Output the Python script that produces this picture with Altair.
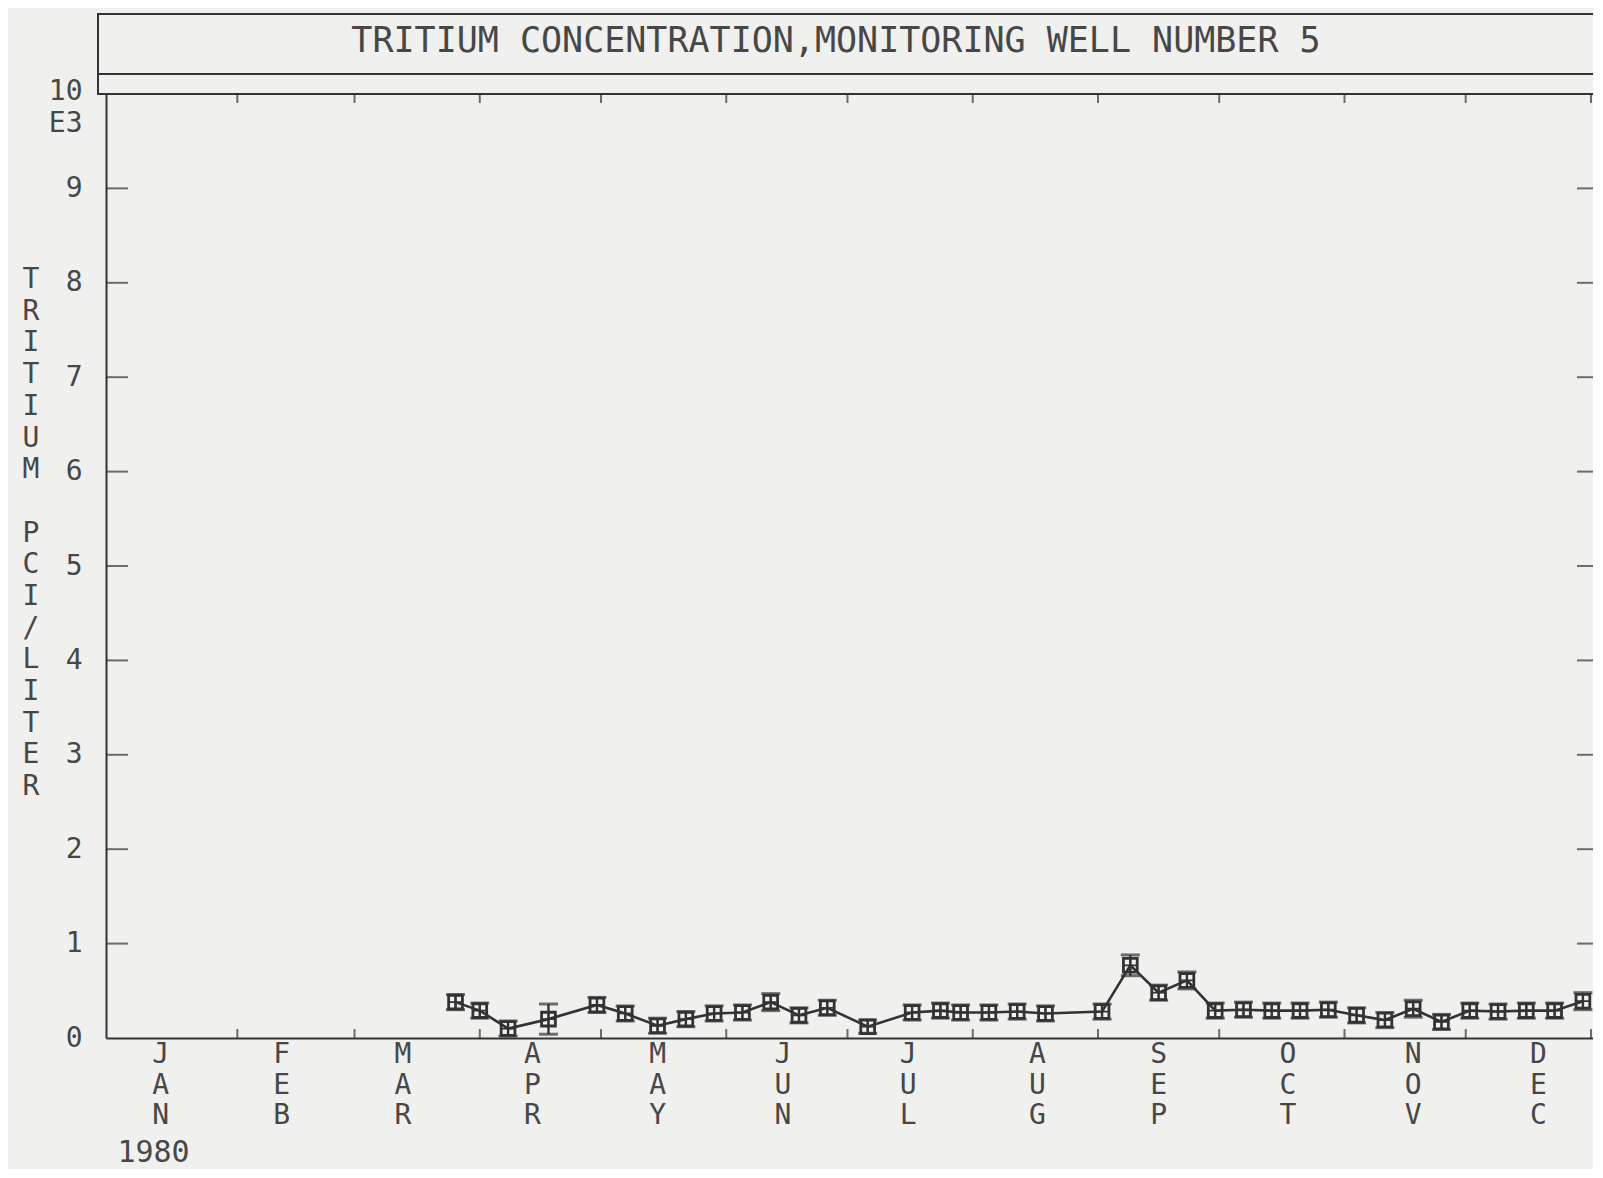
import altair as alt
import pandas as pd

# ---------------- data ----------------
DATES = ["1980-03-26", "1980-04-01", "1980-04-08", "1980-04-18", "1980-04-30",
         "1980-05-07", "1980-05-15", "1980-05-22", "1980-05-29", "1980-06-05",
         "1980-06-12", "1980-06-19", "1980-06-26", "1980-07-06", "1980-07-17",
         "1980-07-24", "1980-07-29", "1980-08-05", "1980-08-12", "1980-08-19",
         "1980-09-02", "1980-09-09", "1980-09-16", "1980-09-23", "1980-09-30",
         "1980-10-07", "1980-10-14", "1980-10-21", "1980-10-28", "1980-11-04",
         "1980-11-11", "1980-11-18", "1980-11-25", "1980-12-02", "1980-12-09",
         "1980-12-16", "1980-12-23", "1980-12-30"]
VALUES = [0.38, 0.29, 0.10, 0.20, 0.35, 0.26, 0.13, 0.20, 0.26, 0.27,
          0.38, 0.24, 0.32, 0.12, 0.27, 0.29, 0.27, 0.27, 0.28, 0.26,
          0.28, 0.77, 0.48, 0.61, 0.29, 0.30, 0.29, 0.29, 0.30, 0.24,
          0.19, 0.31, 0.17, 0.29, 0.28, 0.29, 0.29, 0.39]
ERRORS = [0.08, 0.08, 0.08, 0.16, 0.08, 0.08, 0.08, 0.08, 0.08, 0.08,
          0.09, 0.08, 0.08, 0.07, 0.08, 0.08, 0.08, 0.08, 0.08, 0.08,
          0.08, 0.11, 0.08, 0.09, 0.08, 0.08, 0.08, 0.08, 0.08, 0.08,
          0.08, 0.09, 0.08, 0.08, 0.08, 0.08, 0.08, 0.09]

MONTHS = ["JAN", "FEB", "MAR", "APR", "MAY", "JUN",
          "JUL", "AUG", "SEP", "OCT", "NOV", "DEC"]
MONTH_LABEL_DATES = ["1980-01-13", "1980-02-12", "1980-03-13", "1980-04-14",
                     "1980-05-15", "1980-06-15", "1980-07-16", "1980-08-17",
                     "1980-09-16", "1980-10-18", "1980-11-18", "1980-12-19"]
MONTH_STARTS = ["1980-02-01", "1980-03-01", "1980-04-01", "1980-05-01",
                "1980-06-01", "1980-07-01", "1980-08-01", "1980-09-01",
                "1980-10-01", "1980-11-01", "1980-12-01", "1981-01-01"]
Y_TICKS = [1, 2, 3, 4, 5, 6, 7, 8, 9]
Y_LABEL_VALUES = [0, 1, 2, 3, 4, 5, 6, 7, 8, 9, 10]

TITLE = "TRITIUM CONCENTRATION,MONITORING WELL NUMBER 5"
Y_TITLE_WORDS = ["TRITIUM", "PCI/LITER"]
YEAR = "1980"

# ---------------- style ----------------
W, H = 1487, 944
FONT = "DejaVu Sans Mono"
INK = "#333333"
TXT = "#474747"
BG = "#f0f0ee"
LH = 31.7  # line height of the stacked y-title letters

df = pd.DataFrame({"date": DATES, "value": VALUES, "err": ERRORS})
df["lo"] = df["value"] - df["err"]
df["hi"] = df["value"] + df["err"]

XSCALE = alt.Scale(type="utc",
                   domain=[alt.DateTime(year=1979, month=12, date=30, hours=12, utc=True),
                           alt.DateTime(year=1981, month=1, date=1, hours=12, utc=True)])
YSCALE = alt.Scale(domain=[0, 10], nice=False, zero=True)

XAXIS = alt.Axis(labels=False, ticks=False, tickSize=0, grid=False,
                 domainColor=INK, domainWidth=2,
                 title=YEAR, titleFont=FONT, titleFontSize=30, titleFontWeight="normal",
                 titleColor=TXT, titleX=47, titleY=114, titleAlign="center",
                 titleBaseline="middle", titleAnchor="start")

YAXIS = alt.Axis(values=Y_LABEL_VALUES, ticks=False, tickSize=0, grid=False,
                 domainColor=INK, domainWidth=2,
                 labelFont=FONT, labelFontSize=28, labelColor=TXT, labelPadding=24,
                 labelLineHeight=32,
                 labelExpr="datum.value == 10 ? ['10', 'E3'] : datum.label",
                 labelBaseline={"condition": {"test": "datum.value == 10", "value": "top"},
                                "value": "middle"},
                 labelOffset={"condition": {"test": "datum.value == 10", "value": -17},
                              "value": 0},
                 title=None)


def X(field="date"):
    return alt.X(f"{field}:T", scale=XSCALE, axis=XAXIS)


def Y(field):
    return alt.Y(f"{field}:Q", scale=YSCALE, axis=YAXIS)


base = alt.Chart(df)

line = base.mark_line(color=INK, strokeWidth=2.6).encode(x=X(), y=Y("value"))
err = base.mark_rule(color=INK, strokeWidth=2.4).encode(x=X(), y=Y("lo"), y2="hi:Q")
cap_hi = base.mark_tick(orient="horizontal", size=19, thickness=3, color=INK).encode(
    x=X(), y=Y("hi"))
cap_lo = base.mark_tick(orient="horizontal", size=19, thickness=3, color=INK).encode(
    x=X(), y=Y("lo"))
squares = base.mark_point(shape="square", size=190, filled=False, strokeWidth=2.8,
                          color=INK, opacity=1).encode(x=X(), y=Y("value"))
crosses = base.mark_point(shape="M-1,0L1,0M0,-1L0,1", size=150, filled=False,
                          strokeWidth=1.8, color=INK, opacity=1).encode(x=X(), y=Y("value"))

ms_df = pd.DataFrame({"date": MONTH_STARTS})
bottom_ticks = alt.Chart(ms_df).mark_tick(orient="vertical", size=9, thickness=2,
                                          color=INK).encode(x=X(), y=alt.value(H - 4.5))
top_ticks = alt.Chart(ms_df).mark_tick(orient="vertical", size=9, thickness=2,
                                       color=INK).encode(x=X(), y=alt.value(4.5))

yt_df = pd.DataFrame({"v": Y_TICKS})
left_ticks = alt.Chart(yt_df).mark_tick(orient="horizontal", size=22, thickness=2,
                                        color=INK).encode(y=Y("v"), x=alt.value(11))
right_ticks = alt.Chart(yt_df).mark_tick(orient="horizontal", size=16, thickness=2,
                                         color=INK).encode(y=Y("v"), x=alt.value(W - 8))

ml_df = pd.DataFrame({"date": MONTH_LABEL_DATES,
                      "label": ["\n".join(m) for m in MONTHS]})
month_labels = alt.Chart(ml_df).mark_text(
    lineBreak="\n", baseline="top", align="center", fontSize=28, font=FONT,
    color=TXT, lineHeight=30.7).encode(x=X(), y=alt.value(H + 3), text="label:N")

# y-axis title: two words of stacked letters, with one blank line between them
ytitle_layers = []
top = 172
for word in Y_TITLE_WORDS:
    wdf = pd.DataFrame({"t": ["\n".join(word)]})
    ytitle_layers.append(
        alt.Chart(wdf).mark_text(lineBreak="\n", baseline="top", align="center",
                                 fontSize=28, font=FONT, color=TXT, lineHeight=LH)
        .encode(x=alt.value(-75), y=alt.value(top), text="t:N"))
    top += (len(word) + 1) * LH

frame_df = pd.DataFrame({"title": [TITLE]})
title_box = alt.Chart(frame_df).mark_rect(filled=False, stroke=INK, strokeWidth=2).encode(
    x=alt.value(-8), x2=alt.value(W + 30), y=alt.value(-80), y2=alt.value(0))
title_rule = alt.Chart(frame_df).mark_rule(color=INK, strokeWidth=2).encode(
    x=alt.value(-8), x2=alt.value(W + 30), y=alt.value(-20))
title_text = alt.Chart(frame_df).mark_text(
    fontSize=35, font=FONT, color=TXT, align="center", baseline="middle").encode(
    x=alt.value(730), y=alt.value(-53), text="title:N")

chart = alt.layer(
    title_box, title_rule, title_text, *ytitle_layers,
    bottom_ticks, top_ticks, left_ticks, right_ticks, month_labels,
    err, cap_hi, cap_lo, line, squares, crosses,
).properties(
    width=W, height=H,
    autosize=alt.AutoSizeParams(type="none"),
    padding={"left": 98, "top": 86, "right": 0, "bottom": 131},
    background=BG,
).configure_view(stroke=None)

chart.save("out.html", embed_options={"renderer": "svg", "actions": False})
